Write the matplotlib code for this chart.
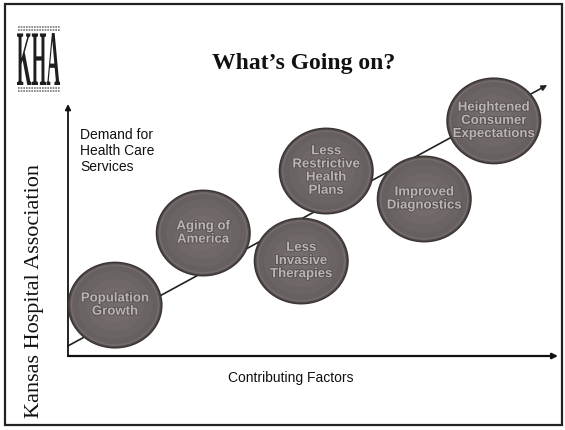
import matplotlib
matplotlib.use("Agg")
import matplotlib.pyplot as plt
import matplotlib.patheffects as pe
from matplotlib.patches import Ellipse, Rectangle, PathPatch
from matplotlib.textpath import TextPath
from matplotlib.font_manager import FontProperties
from matplotlib.transforms import Affine2D

# factors sitting on the rising demand line (x = factor position, y = demand)
factors = ["Population\nGrowth", "Aging of\nAmerica", "Less\nInvasive\nTherapies",
           "Less\nRestrictive\nHealth\nPlans", "Improved\nDiagnostics",
           "Heightened\nConsumer\nExpectations"]
factor_x = [9.6, 27.6, 47.6, 52.7, 72.7, 86.9]
demand_y = [20.2, 48.8, 37.7, 73.4, 62.3, 93.3]
trend_x = [0, 97.8]
trend_y = [4.0, 107.5]

W, H = 565, 431
fig = plt.figure(figsize=(W / 100, H / 100), dpi=100)

# overlay in pixel units for the slide decoration
deco = fig.add_axes([0, 0, 1, 1])
deco.set_xlim(0, W)
deco.set_ylim(H, 0)
deco.axis("off")
deco.add_patch(Rectangle((5, 5), 557, 421, fill=False, lw=1.6, ec="#222222"))

# KHA logo
tp = TextPath((0, 0), "KHA", size=1,
              prop=FontProperties(family="Liberation Serif", weight="bold"))
ext = tp.get_extents()
tr = (Affine2D().translate(-ext.x0, -ext.y0)
      .scale(43 / ext.width, -52 / ext.height).translate(17, 86))
deco.add_patch(PathPatch(tr.transform_path(tp), fc="#1e1e1e", ec="none"))
for yy in (28, 31, 89, 92):
    deco.plot([18, 60], [yy, yy], color="#777777", lw=1.2, ls=(0, (1, 0.6)))

deco.text(304, 63, "What\u2019s Going on?", ha="center", va="center",
          family="Liberation Serif", fontweight="bold", fontsize=17, color="#111111")
deco.text(35, 291, "Kansas Hospital Association", ha="center", va="center",
          rotation=90, family="Liberation Serif", fontsize=16, color="#111111")

# chart area
x0, x1, yb, yt = 68, 558, 357, 105
ax = fig.add_axes([x0 / W, 1 - yb / H, (x1 - x0) / W, (yb - yt) / H])
ax.set_xlim(0, 100)
ax.set_ylim(0, 100)
ax.axis("off")

ax.annotate("", xy=(0, 100), xytext=(0, 0),
            arrowprops=dict(arrowstyle="-|>", lw=1.3, color="#111111",
                            mutation_scale=8, shrinkA=0, shrinkB=0))
ax.annotate("", xy=(100, 0), xytext=(0, 0),
            arrowprops=dict(arrowstyle="-|>", lw=1.6, color="#111111",
                            mutation_scale=8, shrinkA=0, shrinkB=0))
ax.annotate("", xy=(trend_x[1], trend_y[1]), xytext=(trend_x[0], trend_y[0]),
            arrowprops=dict(arrowstyle="-|>", lw=1.2, color="#222222",
                            mutation_scale=8, shrinkA=0, shrinkB=0),
            annotation_clip=False, zorder=1)

ax.text(2.5, 91, "Demand for\nHealth Care\nServices", ha="left", va="top",
        family="Liberation Sans", fontsize=10, linespacing=1.2, color="#111111")
ax.text(45.5, -8.5, "Contributing Factors", ha="center", va="center",
        family="Liberation Sans", fontsize=10, color="#111111")

# bubbles: sphere-like shading
bw, bh = 19.4, 34.5
shades = ["#3a3434", "#524a4a", "#746c6a", "#666060", "#6a6462", "#6f6866", "#746c6a"]
scales = [1.0, 0.97, 0.94, 0.9, 0.78, 0.6, 0.4]
for lab, fx, fy in zip(factors, factor_x, demand_y):
    for c, s in zip(shades, scales):
        ax.add_patch(Ellipse((fx, fy), bw * s, bh * s, fc=c, ec="none",
                             zorder=3, clip_on=False))
    ax.text(fx, fy, lab, ha="center", va="center", family="Liberation Sans",
            fontweight="bold", fontsize=9.5, color="#b9b5b3",
            linespacing=1.13, zorder=4,
            path_effects=[pe.withStroke(linewidth=1.2, foreground="#55504e")])

fig.savefig("out.png", dpi=100)
